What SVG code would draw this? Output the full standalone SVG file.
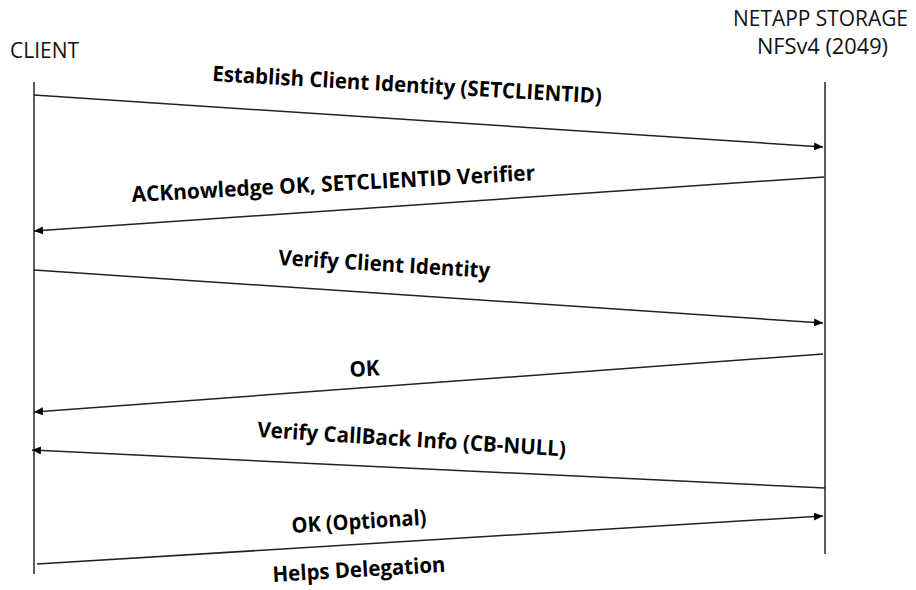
<svg xmlns="http://www.w3.org/2000/svg" width="916" height="590" viewBox="0 0 916 590">
<style>
.hdr{font-family:"Open Sans","Liberation Sans",sans-serif;font-size:22px;fill:#111;}
.lbl{font-family:"Open Sans","Liberation Sans",sans-serif;font-size:21.5px;font-weight:bold;fill:#000;}
.life{stroke:#333;stroke-width:1.6;fill:none;}
.msg{stroke:#222;stroke-width:1.5;fill:none;marker-end:url(#ah);}
</style>
<defs>
<marker id="ah" markerUnits="userSpaceOnUse" markerWidth="10" markerHeight="8" refX="9" refY="4" orient="auto">
<path d="M0,0 L9,4 L0,8 z" fill="#000"/>
</marker>
</defs>
<rect width="916" height="590" fill="#fff"/>
<g id="client">
<text class="hdr" x="10" y="58" textLength="69" lengthAdjust="spacingAndGlyphs">CLIENT</text>
<line class="life" x1="34" y1="82" x2="34" y2="574"/>
</g>
<g id="storage">
<text class="hdr" x="733" y="26" textLength="175" lengthAdjust="spacingAndGlyphs">NETAPP STORAGE</text>
<text class="hdr" x="757" y="54" textLength="131" lengthAdjust="spacingAndGlyphs">NFSv4 (2049)</text>
<line class="life" x1="825" y1="82" x2="825" y2="554"/>
</g>
<g id="connectors">
<line class="msg" x1="34" y1="95" x2="823" y2="147"/>
<line class="msg" x1="824" y1="177" x2="34" y2="231"/>
<line class="msg" x1="34" y1="270" x2="823" y2="323"/>
<line class="msg" x1="823" y1="354" x2="34" y2="412"/>
<line class="msg" x1="825" y1="488" x2="32" y2="450"/>
<line class="msg" x1="37" y1="564" x2="823" y2="516"/>
</g>
<g id="labels">
<text class="lbl" transform="translate(212,81) rotate(3.3)" textLength="390" lengthAdjust="spacingAndGlyphs">Establish Client Identity (SETCLIENTID)</text>
<text class="lbl" transform="translate(132,202) rotate(-3.1)" textLength="404" lengthAdjust="spacingAndGlyphs">ACKnowledge OK, SETCLIENTID Verifier</text>
<text class="lbl" transform="translate(278,265) rotate(3.5)" textLength="212" lengthAdjust="spacingAndGlyphs">Verify Client Identity</text>
<text class="lbl" transform="translate(350,377) rotate(-3.5)" textLength="30" lengthAdjust="spacingAndGlyphs">OK</text>
<text class="lbl" transform="translate(257,437) rotate(3.6)" textLength="309" lengthAdjust="spacingAndGlyphs">Verify CallBack Info (CB-NULL)</text>
<text class="lbl" transform="translate(292,533) rotate(-3.5)" textLength="135" lengthAdjust="spacingAndGlyphs">OK (Optional)</text>
<text class="lbl" transform="translate(273,582) rotate(-3.4)" textLength="173" lengthAdjust="spacingAndGlyphs">Helps Delegation</text>
</g>
</svg>
